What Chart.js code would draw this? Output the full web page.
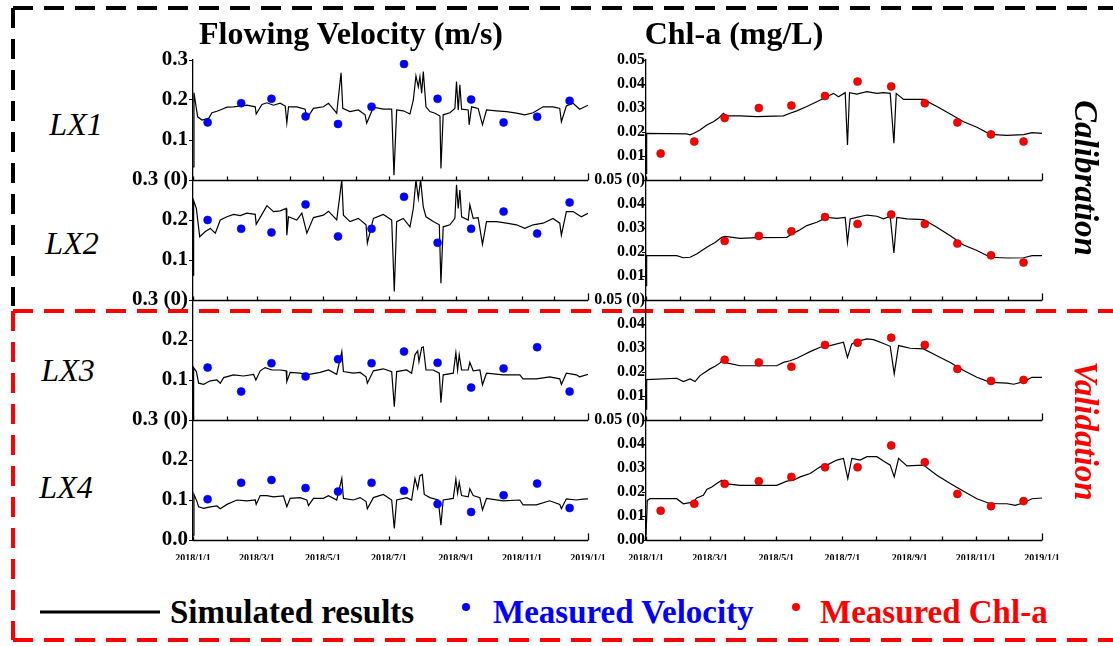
<!DOCTYPE html>
<html>
<head>
<meta charset="utf-8">
<script src="https://cdn.jsdelivr.net/npm/chart.js@4.4.0/dist/chart.umd.min.js"></script>
<style>
body { margin:0; width:1113px; height:646px; background:#fff; position:relative; overflow:hidden;
  font-family:"Liberation Serif","Times New Roman",serif; }
canvas.col { position:absolute; top:46px; }
.t { position:absolute; white-space:nowrap; line-height:1; transform:translate(-50%,-50%); }
.title { font-weight:bold; font-size:32px; color:#000; }
.site { font-style:italic; font-size:32px; color:#000; }
.side { font-weight:bold; font-style:italic; font-size:33px; transform:translate(-50%,-50%) rotate(90deg); }
.leg { position:absolute; white-space:nowrap; line-height:1; font-weight:bold; font-size:33px; transform:translateY(-50%); }
.dot { position:absolute; width:8px; height:8px; border-radius:50%; transform:translate(-50%,-50%); }
svg.frame { position:absolute; left:0; top:0; }
</style>
</head>
<body>
<svg class="frame" width="1113" height="646">
  <g fill="none" stroke-width="4" stroke-dasharray="20 11">
    <path d="M13 8 H1113" stroke="#000"/>
    <path d="M13 8 V306" stroke="#000"/>
    <path d="M13 311 H1113" stroke="#ff0000"/>
    <path d="M13 311 V640" stroke="#ff0000"/>
    <path d="M13 640 H1113" stroke="#ff0000"/>
  </g>
  <line x1="40" y1="612" x2="160" y2="612" stroke="#000" stroke-width="3"/>
</svg>

<canvas id="velChart" class="col" width="505" height="514" style="left:113px"></canvas>
<canvas id="chlChart" class="col" width="506" height="514" style="left:566px"></canvas>

<div class="t title" style="left:351px; top:33px">Flowing Velocity (m/s)</div>
<div class="t title" style="left:734px; top:33px">Chl-a (mg/L)</div>
<div class="t site" style="left:76px; top:124px">LX1</div>
<div class="t site" style="left:72px; top:243px">LX2</div>
<div class="t site" style="left:68px; top:370px">LX3</div>
<div class="t site" style="left:66px; top:487px">LX4</div>
<div class="t side" style="left:1085px; top:178px; color:#000">Calibration</div>
<div class="t side" style="left:1085px; top:431px; color:#ff0000">Validation</div>

<div class="leg" style="left:170px; top:612px; color:#000">Simulated results</div>
<div class="dot" style="left:466px; top:607px; background:#0000ff"></div>
<div class="leg" style="left:493px; top:612px; color:#0000ff">Measured Velocity</div>
<div class="dot" style="left:796px; top:607px; background:#ff0000"></div>
<div class="leg" style="left:820px; top:612px; color:#ff0000">Measured Chl-a</div>

<script>
// ---- axes ----
var MONTH_DAYS = [0, 31, 59, 90, 120, 151, 181, 212, 243, 273, 304, 334, 365];
var X_LABELS = ['2018/1/1', '', '2018/3/1', '', '2018/5/1', '', '2018/7/1', '', '2018/9/1', '', '2018/11/1', '', '2019/1/1'];
var VEL_TICKS = [0, 0.1, 0.2, 0.3];
var CHL_TICKS = [0, 0.01, 0.02, 0.03, 0.04, 0.05];

// ---- measured (sampling day of 2018, value) ----
var MEAS_DAYS = [13.5, 44.5, 72.5, 104, 134, 165, 195, 226, 257, 287, 318, 348];
var measV1 = [0.144, 0.192, 0.203, 0.159, 0.140, 0.183, 0.290, 0.203, 0.201, 0.144, 0.158, 0.198];
var measV2 = [0.200, 0.178, 0.169, 0.239, 0.159, 0.178, 0.258, 0.143, 0.178, 0.221, 0.166, 0.244];
var measV3 = [0.131, 0.071, 0.142, 0.109, 0.152, 0.142, 0.171, 0.143, 0.081, 0.129, 0.182, 0.071];
var measV4 = [0.102, 0.143, 0.150, 0.130, 0.121, 0.143, 0.123, 0.090, 0.070, 0.112, 0.141, 0.080];
var measC1 = [0.0110, 0.0160, 0.0258, 0.0300, 0.0310, 0.0350, 0.0410, 0.0390, 0.0320, 0.0240, 0.0190, 0.0160];
var measC2 = [null, null, 0.0246, 0.0267, 0.0286, 0.0346, 0.0317, 0.0356, 0.0317, 0.0235, 0.0186, 0.0156];
var measC3 = [null, null, 0.0251, 0.0240, 0.0222, 0.0313, 0.0322, 0.0343, 0.0313, 0.0213, 0.0163, 0.0167];
var measC4 = [0.0122, 0.0151, 0.0234, 0.0245, 0.0263, 0.0303, 0.0303, 0.0394, 0.0324, 0.0192, 0.0141, 0.0162];

// ---- simulated velocity (day, m/s) ----
var simDayV1 = [0, 0.9, 4.3, 8.3, 14.5, 17.5, 22.1, 26.8, 31.4, 37.5, 43.7, 49.8, 57.5, 58.4, 63.7, 68.3, 74.4, 80.6, 85.2, 86.7, 88.3, 95.9, 103.6, 105.2, 111.3, 120.5, 125.2, 132.8, 136.8, 138.4, 145.1, 152.8, 159, 160.5, 166.7, 175.9, 183.6, 185.7, 188.2, 194.3, 200.5, 203.6, 206, 208.2, 209.7, 211.3, 212.8, 215.3, 218.9, 223.6, 228.2, 229.1, 231.2, 237.4, 242, 243.5, 245.1, 246.6, 248.2, 254.3, 255.2, 257.4, 263.5, 267.5, 271.2, 280.4, 289.7, 298.9, 306.6, 314.3, 323.5, 332.7, 338.9, 340.4, 345, 351.2, 357.3, 365];
var simV1 = [0.033, 0.218, 0.158, 0.150, 0.154, 0.168, 0.172, 0.177, 0.182, 0.183, 0.185, 0.187, 0.183, 0.165, 0.189, 0.193, 0.187, 0.192, 0.185, 0.143, 0.183, 0.183, 0.177, 0.154, 0.179, 0.183, 0.192, 0.167, 0.268, 0.179, 0.171, 0.175, 0.163, 0.142, 0.182, 0.177, 0.177, 0.012, 0.175, 0.173, 0.165, 0.200, 0.260, 0.233, 0.258, 0.217, 0.271, 0.183, 0.171, 0.167, 0.160, 0.029, 0.163, 0.168, 0.179, 0.246, 0.175, 0.238, 0.177, 0.175, 0.138, 0.183, 0.179, 0.138, 0.175, 0.173, 0.171, 0.167, 0.163, 0.168, 0.183, 0.183, 0.179, 0.146, 0.185, 0.192, 0.177, 0.187];

var simDayV2 = [0, 0.6, 3.1, 6.2, 11.4, 16, 20.6, 25.2, 31.4, 37.5, 43.7, 49.8, 57.5, 58.4, 63.7, 68.3, 74.4, 80.6, 86.1, 86.7, 88.3, 95.9, 100.6, 105.2, 111.3, 120.5, 125.2, 132.8, 137.5, 139, 145.1, 152.8, 159.9, 161.1, 166.7, 175.9, 183.6, 186, 188.2, 194.3, 200.5, 203.6, 206, 208.2, 210.3, 212.8, 215.3, 222, 227.6, 229.1, 231.2, 237.4, 242, 243.5, 245.1, 246.6, 248.2, 254.3, 255.8, 258.9, 263.5, 267.5, 271.2, 280.4, 289.7, 298.9, 306.6, 314.3, 323.5, 332.7, 338.9, 340.4, 345, 351.2, 358.8, 365];
var simV2 = [0.062, 0.248, 0.229, 0.158, 0.171, 0.179, 0.167, 0.200, 0.208, 0.214, 0.211, 0.217, 0.214, 0.189, 0.214, 0.236, 0.221, 0.223, 0.229, 0.162, 0.208, 0.200, 0.217, 0.167, 0.206, 0.212, 0.222, 0.200, 0.300, 0.212, 0.196, 0.204, 0.188, 0.142, 0.204, 0.214, 0.200, 0.021, 0.196, 0.204, 0.183, 0.229, 0.300, 0.254, 0.300, 0.233, 0.208, 0.196, 0.188, 0.042, 0.183, 0.188, 0.204, 0.288, 0.229, 0.275, 0.208, 0.200, 0.238, 0.204, 0.206, 0.139, 0.196, 0.196, 0.192, 0.188, 0.179, 0.188, 0.192, 0.204, 0.192, 0.162, 0.221, 0.221, 0.208, 0.217];

var simDayV3 = [0, 0.6, 3.1, 5.2, 9.8, 16, 22.1, 25.2, 28.3, 37.5, 46.7, 56, 58.1, 62.1, 66.7, 72.9, 80.6, 86.1, 86.7, 89.8, 99, 105.2, 117.5, 125.2, 132.8, 137.5, 139, 148.2, 154.4, 159.9, 161.1, 166.7, 175.9, 183.6, 186, 188.2, 197.4, 202, 205.1, 207.6, 208.8, 211.3, 212.8, 215.3, 222, 227.6, 229.1, 231.2, 240.5, 242.9, 244.5, 246, 248.2, 254.3, 255.8, 258.9, 265.1, 267.5, 271.2, 286.6, 302, 305, 317.3, 329.6, 338.9, 340.4, 345, 354.2, 357.3, 365];
var simV3 = [0.004, 0.131, 0.121, 0.092, 0.089, 0.098, 0.100, 0.092, 0.106, 0.113, 0.110, 0.114, 0.100, 0.123, 0.131, 0.125, 0.125, 0.123, 0.096, 0.119, 0.117, 0.113, 0.119, 0.125, 0.114, 0.171, 0.121, 0.117, 0.119, 0.108, 0.092, 0.123, 0.128, 0.121, 0.033, 0.121, 0.125, 0.117, 0.163, 0.173, 0.146, 0.181, 0.183, 0.125, 0.125, 0.117, 0.043, 0.113, 0.117, 0.168, 0.125, 0.163, 0.125, 0.125, 0.144, 0.123, 0.125, 0.088, 0.117, 0.113, 0.113, 0.103, 0.103, 0.108, 0.103, 0.089, 0.117, 0.113, 0.108, 0.114];

var simDayV4 = [0, 0.9, 3.7, 5.2, 9.8, 16, 22.1, 25.2, 31.4, 40.6, 49.8, 57.5, 58.4, 62.1, 68.3, 74.4, 83.6, 86.7, 89.8, 99, 105.2, 106.7, 111.3, 120.5, 125.2, 132.8, 137.5, 139, 148.2, 154.4, 159.9, 161.1, 166.7, 175.9, 183.6, 186, 188.2, 197.4, 202, 205.1, 207.6, 209.7, 211.9, 213.7, 218.9, 226.6, 229.1, 231.2, 240.5, 242.9, 244.5, 246, 248.2, 254.3, 255.8, 258.9, 265.1, 267.5, 271.2, 286.6, 302, 305, 317.3, 329.6, 338.9, 340.4, 345, 354.2, 360.4, 365];
var simV4 = [0.012, 0.114, 0.096, 0.083, 0.079, 0.083, 0.085, 0.078, 0.089, 0.100, 0.098, 0.100, 0.089, 0.111, 0.111, 0.108, 0.110, 0.083, 0.104, 0.106, 0.100, 0.086, 0.104, 0.104, 0.111, 0.100, 0.154, 0.104, 0.100, 0.106, 0.096, 0.078, 0.106, 0.114, 0.100, 0.029, 0.100, 0.106, 0.100, 0.154, 0.129, 0.161, 0.164, 0.114, 0.106, 0.100, 0.037, 0.100, 0.104, 0.152, 0.117, 0.144, 0.111, 0.108, 0.128, 0.111, 0.106, 0.075, 0.104, 0.098, 0.100, 0.088, 0.088, 0.098, 0.089, 0.078, 0.103, 0.100, 0.102, 0.103];

// ---- simulated Chl-a (day, mg/L) ----
var simDayC1 = [0, 0.6, 37.5, 40.6, 43.7, 49.8, 56, 62.1, 66.7, 71.3, 74.4, 86.7, 102.1, 126.7, 132.8, 139, 148.2, 157.4, 166.7, 172.8, 177.4, 183.6, 185.7, 187.6, 194.3, 203.6, 212.8, 218.9, 225.1, 228.5, 230.6, 237.4, 243.5, 255.8, 268.1, 280.4, 292.7, 305, 317.3, 332.7, 348.1, 355.8, 365];
var simC1 = [0.0028, 0.0194, 0.0192, 0.0188, 0.0194, 0.0208, 0.0229, 0.0243, 0.0257, 0.0278, 0.0267, 0.0267, 0.0264, 0.0267, 0.0278, 0.0288, 0.0306, 0.0326, 0.0347, 0.0361, 0.0347, 0.0364, 0.0146, 0.0364, 0.0358, 0.0368, 0.0361, 0.0364, 0.0361, 0.0153, 0.0361, 0.0336, 0.0336, 0.0336, 0.0306, 0.0275, 0.0243, 0.0220, 0.0190, 0.0186, 0.0189, 0.0197, 0.0194];

var simDayC2 = [0, 0.6, 28.3, 34.4, 40.6, 46.7, 52.9, 57.5, 63.7, 69.8, 72.9, 86.7, 102.1, 129.8, 134.4, 140.5, 148.2, 157.4, 166.7, 175.9, 183.6, 185.7, 188.2, 194.3, 203.6, 212.8, 218.9, 225.1, 228.5, 231.2, 240.5, 255.8, 268.1, 280.4, 292.7, 305, 317.3, 332.7, 348.1, 355.8, 365];
var simC2 = [0.0060, 0.0185, 0.0185, 0.0176, 0.0178, 0.0192, 0.0210, 0.0224, 0.0240, 0.0261, 0.0265, 0.0257, 0.0260, 0.0261, 0.0275, 0.0289, 0.0310, 0.0324, 0.0344, 0.0340, 0.0344, 0.0240, 0.0338, 0.0344, 0.0354, 0.0349, 0.0338, 0.0349, 0.0196, 0.0344, 0.0338, 0.0335, 0.0303, 0.0268, 0.0229, 0.0206, 0.0178, 0.0175, 0.0176, 0.0185, 0.0185];

var simDayC3 = [0, 0.6, 28.3, 34.4, 40.6, 45.2, 49.8, 54.4, 59, 63.7, 68.3, 71.3, 74.4, 86.7, 102.1, 120.5, 126.7, 132.8, 139, 145.1, 151.3, 160.5, 169.7, 182, 185.7, 189.7, 197.4, 203.6, 209.7, 218.9, 225.1, 228.8, 232.8, 243.5, 255.8, 268.1, 280.4, 292.7, 305, 317.3, 332.7, 338.9, 348.1, 355.8, 365];
var simC3 = [0.0045, 0.0168, 0.0174, 0.0160, 0.0171, 0.0160, 0.0185, 0.0199, 0.0213, 0.0224, 0.0238, 0.0254, 0.0238, 0.0226, 0.0226, 0.0226, 0.0240, 0.0247, 0.0257, 0.0271, 0.0285, 0.0303, 0.0310, 0.0324, 0.0261, 0.0317, 0.0331, 0.0338, 0.0335, 0.0319, 0.0307, 0.0192, 0.0310, 0.0299, 0.0296, 0.0268, 0.0240, 0.0206, 0.0178, 0.0157, 0.0154, 0.0149, 0.0160, 0.0178, 0.0178];

var simDayC4 = [0, 1.2, 3.7, 28.3, 34.4, 39.1, 43.7, 46.7, 52.9, 56, 60.6, 65.2, 69.8, 72.9, 86.7, 102.1, 120.5, 129.8, 135.9, 142.1, 151.3, 160.5, 166.7, 175.9, 182, 186, 189.7, 197.4, 203.6, 212.8, 218.9, 225.1, 228.8, 232.8, 240.5, 255.8, 268.1, 280.4, 292.7, 305, 317.3, 332.7, 340.4, 348.1, 355.8, 365];
var simC4 = [0.0018, 0.0165, 0.0172, 0.0172, 0.0151, 0.0155, 0.0158, 0.0175, 0.0186, 0.0211, 0.0221, 0.0235, 0.0249, 0.0235, 0.0228, 0.0228, 0.0228, 0.0245, 0.0249, 0.0263, 0.0277, 0.0305, 0.0312, 0.0333, 0.0340, 0.0256, 0.0340, 0.0333, 0.0347, 0.0347, 0.0329, 0.0312, 0.0263, 0.0340, 0.0309, 0.0312, 0.0270, 0.0235, 0.0203, 0.0172, 0.0151, 0.0151, 0.0144, 0.0155, 0.0172, 0.0175];

var serif = 'Liberation Serif';

function pts(days, vals) {
  var out = [];
  for (var i = 0; i < days.length; i++) {
    if (vals[i] !== null) out.push({ x: days[i], y: vals[i] });
  }
  return out;
}

function simSet(days, vals, axis) {
  return { data: pts(days, vals), yAxisID: axis, borderColor: '#000', borderWidth: 1.2,
    pointRadius: 0, tension: 0, order: 1 };
}

function measSet(vals, axis, color, edge) {
  return { data: pts(MEAS_DAYS, vals), yAxisID: axis, showLine: false, order: 0,
    pointRadius: 4, pointBackgroundColor: color, pointBorderColor: edge, pointBorderWidth: 0.6 };
}

function yAxis(row, tickVals, topLabel, bottomLabel, digits, fontSize, pad) {
  var maxV = tickVals[tickVals.length - 1];
  return {
    type: 'linear', position: 'left', stack: 'col', stackWeight: 1, weight: 5 - row,
    min: 0, max: maxV,
    afterBuildTicks: function (s) { s.ticks = tickVals.map(function (v) { return { value: v }; }); },
    afterFit: function (s) { s.width = 80; },
    grid: { drawOnChartArea: false, drawTicks: true, tickLength: 4, color: '#000', lineWidth: 1 },
    border: { display: true, color: '#000', width: 1.3 },
    ticks: {
      autoSkip: false, padding: pad, color: '#000',
      font: { family: serif, weight: 'bold', size: fontSize },
      callback: function (v) {
        if (v === maxV) return topLabel;
        if (v === 0) return bottomLabel;
        return v.toFixed(digits);
      }
    }
  };
}

var xAxis = {
  type: 'linear', min: 0, max: 365,
  afterBuildTicks: function (s) { s.ticks = MONTH_DAYS.map(function (v) { return { value: v }; }); },
  afterFit: function (s) { s.height = 20; },
  grid: { display: false }, border: { display: false },
  ticks: { autoSkip: false, maxRotation: 0, padding: 4, color: '#000',
    font: { family: serif, weight: 'bold', size: 10 },
    callback: function (v) { return X_LABELS[MONTH_DAYS.indexOf(v)]; } }
};

// panel bottom lines with inward monthly ticks
var panelFrame = {
  id: 'panelFrame',
  afterDatasetsDraw: function (chart) {
    var ctx = chart.ctx, xs = chart.scales.x;
    ctx.save();
    ctx.strokeStyle = '#000';
    ctx.lineWidth = 1.3;
    ['y1', 'y2', 'y3', 'y4'].forEach(function (id) {
      var yb = Math.round(chart.scales[id].bottom) + 0.5;
      ctx.beginPath();
      ctx.moveTo(xs.left, yb);
      ctx.lineTo(xs.right, yb);
      MONTH_DAYS.forEach(function (d) {
        var px = Math.round(xs.getPixelForValue(d)) + 0.5;
        ctx.moveTo(px, yb);
        ctx.lineTo(px, yb - (d === 365 ? 7 : 4));
      });
      ctx.stroke();
    });
    ctx.restore();
  }
};

function makeChart(id, datasets, scales) {
  return new Chart(document.getElementById(id), {
    type: 'line',
    data: { datasets: datasets },
    options: {
      responsive: false, animation: false, devicePixelRatio: 1,
      layout: { padding: { top: 14, right: 30, bottom: 0, left: 0 } },
      plugins: { legend: { display: false }, tooltip: { enabled: false } },
      scales: scales
    },
    plugins: [panelFrame]
  });
}

var BLUE = '#0000ff', RED = '#ff0000', DARKRED = '#b00000';

makeChart('velChart', [
  simSet(simDayV1, simV1, 'y1'), simSet(simDayV2, simV2, 'y2'),
  simSet(simDayV3, simV3, 'y3'), simSet(simDayV4, simV4, 'y4'),
  measSet(measV1, 'y1', BLUE, BLUE), measSet(measV2, 'y2', BLUE, BLUE),
  measSet(measV3, 'y3', BLUE, BLUE), measSet(measV4, 'y4', BLUE, BLUE)
], {
  x: xAxis,
  y1: yAxis(1, VEL_TICKS, '0.3', '', 1, 21, 1),
  y2: yAxis(2, VEL_TICKS, '0.3 (0)', '', 1, 21, 1),
  y3: yAxis(3, VEL_TICKS, '0.3 (0)', '', 1, 21, 1),
  y4: yAxis(4, VEL_TICKS, '0.3 (0)', '0.0', 1, 21, 1)
});

makeChart('chlChart', [
  simSet(simDayC1, simC1, 'y1'), simSet(simDayC2, simC2, 'y2'),
  simSet(simDayC3, simC3, 'y3'), simSet(simDayC4, simC4, 'y4'),
  measSet(measC1, 'y1', RED, DARKRED), measSet(measC2, 'y2', RED, DARKRED),
  measSet(measC3, 'y3', RED, DARKRED), measSet(measC4, 'y4', RED, DARKRED)
], {
  x: xAxis,
  y1: yAxis(1, CHL_TICKS, '0.05', '', 2, 16, -3),
  y2: yAxis(2, CHL_TICKS, '0.05 (0)', '', 2, 16, -3),
  y3: yAxis(3, CHL_TICKS, '0.05 (0)', '', 2, 16, -3),
  y4: yAxis(4, CHL_TICKS, '0.05 (0)', '0.00', 2, 16, -3)
});
</script>
</body>
</html>
